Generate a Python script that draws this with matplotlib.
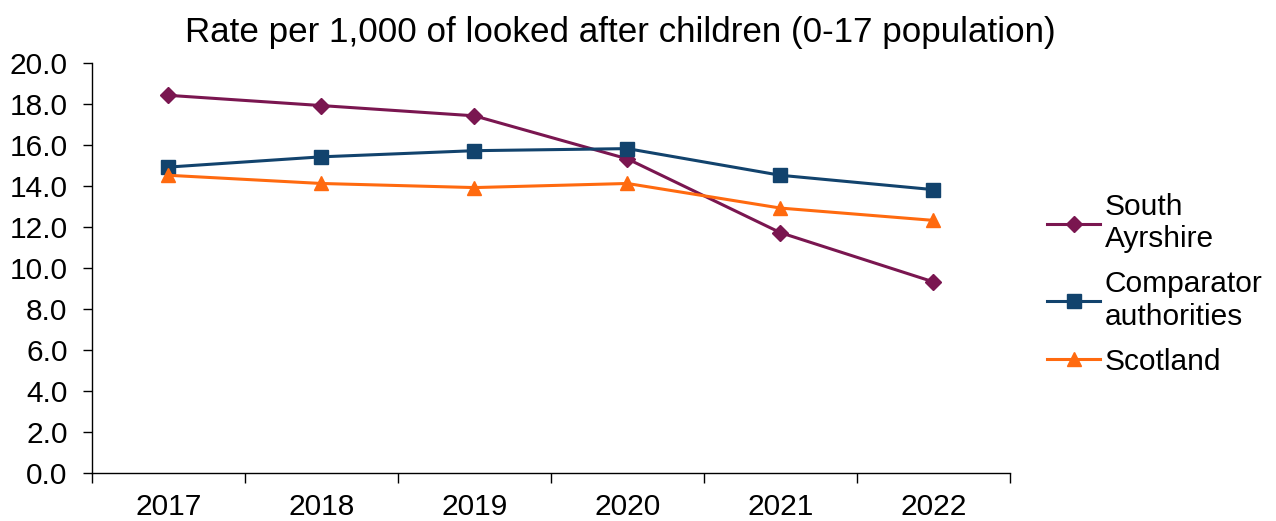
import matplotlib.pyplot as plt
import numpy as np

plt.rcParams['font.family'] = ['Liberation Sans', 'DejaVu Sans']

years = ['2017', '2018', '2019', '2020', '2021', '2022']
south_ayrshire = [18.4, 17.9, 17.4, 15.3, 11.7, 9.3]
comparator = [14.9, 15.4, 15.7, 15.8, 14.5, 13.8]
scotland = [14.5, 14.1, 13.9, 14.1, 12.9, 12.3]

series = [
    ('South\nAyrshire', south_ayrshire, '#7A1650', 'D', 8),
    ('Comparator\nauthorities', comparator, '#12436D', 's', 10),
    ('Scotland', scotland, '#FF6A0F', '^', 10),
]

fig = plt.figure(figsize=(12.76, 5.21), dpi=100)
ax = fig.add_axes([0.072, 0.093, 0.7195, 0.787])

x = np.arange(len(years))
for label, vals, color, marker, ms in series:
    ax.plot(x, vals, color=color, marker=marker, markersize=ms, linewidth=2.2,
            label=label)

ax.set_xlim(-0.5, len(years) - 0.5)
ax.set_ylim(0, 20)
ax.set_yticks(np.arange(0, 20.1, 2))
ax.set_yticklabels([f'{v:.1f}' for v in np.arange(0, 20.1, 2)])

# category labels centred, tick marks on the boundaries
ax.set_xticks(np.arange(-0.5, len(years)), minor=False)
ax.set_xticklabels([])
ax.set_xticks(x, minor=True)
ax.set_xticklabels(years, minor=True)
ax.tick_params(axis='x', which='major', direction='out', length=7, width=1)
ax.tick_params(axis='x', which='minor', length=0, pad=15, labelsize=21.5)
ax.tick_params(axis='y', direction='out', length=6.5, width=1, labelsize=21.5, pad=11)

for side in ('top', 'right'):
    ax.spines[side].set_visible(False)
for side in ('left', 'bottom'):
    ax.spines[side].set_linewidth(1)

fig.text(0.486, 0.937, 'Rate per 1,000 of looked after children (0-17 population)',
         ha='center', va='center', fontsize=25.2)

ax.legend(loc='center left', bbox_to_anchor=(1.04, 0.459), frameon=False,
          fontsize=21.5, handlelength=1.8, labelspacing=0.57, handletextpad=0.15,
          borderpad=0, borderaxespad=0)

fig.savefig('out.png', dpi=100)
